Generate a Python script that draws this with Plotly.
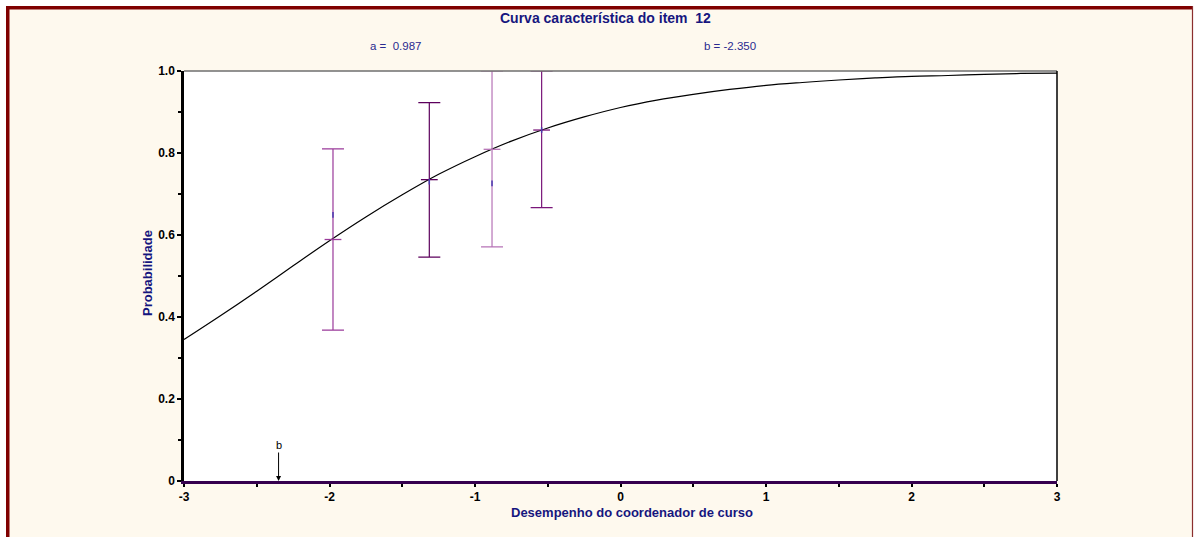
import plotly.graph_objects as go

# ---- data ----
curve_x = [-3.0, -2.75, -2.5, -2.25, -2.0, -1.75, -1.5, -1.25, -1.0, -0.75, -0.5, -0.25,
           0.0, 0.25, 0.5, 0.75, 1.0, 1.25, 1.5, 1.75, 2.0, 2.25, 2.5, 2.75, 3.0]
curve_p = [0.345, 0.403, 0.463, 0.525, 0.586, 0.644, 0.698, 0.748, 0.791, 0.829, 0.861, 0.888,
           0.911, 0.929, 0.943, 0.955, 0.965, 0.972, 0.978, 0.983, 0.987, 0.989, 0.992, 0.994, 0.995]

group_x = [-1.976, -1.314, -0.883, -0.542]
group_fit = [0.589, 0.735, 0.809, 0.856]
group_upper = [0.810, 0.923, 1.0, 1.0]
group_lower = [0.368, 0.546, 0.571, 0.667]
group_obs = [0.649, 0.730, 0.726, 0.856]

param_a = "0.987"
param_b = -2.35
item_no = 12

x_ticks = [-3, -2, -1, 0, 1, 2, 3]
y_ticks = [0, 0.2, 0.4, 0.6, 0.8, 1.0]
y_ticklabels = ["0", "0.2", "0.4", "0.6", "0.8", "1.0"]

# ---- styling ----
W, H = 1194, 537
L, R, T, B = 184, 1057, 71, 481
bar_colors = ["#9A3A9A", "#5C005C", "#B673B6", "#7A167A"]
navy = "#16167E"
FONT = "Liberation Sans"


def px(xp):
    return (xp - L) / (R - L)


def py(yp):
    return (B - yp) / (B - T)


fig = go.Figure()

fig.add_trace(go.Scatter(x=curve_x, y=curve_p, mode="lines",
                         line=dict(color="black", width=1.2, shape="spline"),
                         showlegend=False, hoverinfo="skip"))

for i in range(len(group_x)):
    c = bar_colors[i]
    fig.add_trace(go.Scatter(
        x=[group_x[i]], y=[group_fit[i]], mode="markers",
        marker=dict(symbol="line-ew", size=12, line=dict(color=c, width=1.3)),
        error_y=dict(type="data", symmetric=False,
                     array=[group_upper[i] - group_fit[i]],
                     arrayminus=[group_fit[i] - group_lower[i]],
                     color=c, thickness=1.2, width=11),
        showlegend=False, cliponaxis=False))

fig.add_trace(go.Scatter(x=group_x, y=group_obs, mode="markers",
                         marker=dict(symbol="line-ns", size=4,
                                     line=dict(color="#4A3AB0", width=1.5)),
                         showlegend=False))

shapes = [
    dict(type="rect", xref="paper", yref="paper", x0=px(0), x1=px(W), y0=py(0), y1=py(6),
         fillcolor="white", line=dict(width=0), layer="below"),
    dict(type="rect", xref="paper", yref="paper", x0=px(0), x1=px(6), y0=py(0), y1=py(H),
         fillcolor="white", line=dict(width=0), layer="below"),
    dict(type="rect", xref="paper", yref="paper", x0=px(1193), x1=px(W), y0=py(0), y1=py(H),
         fillcolor="white", line=dict(width=0), layer="below"),
    dict(type="rect", xref="paper", yref="paper", x0=px(6), x1=px(1193), y0=py(6), y1=py(9.5),
         fillcolor="#800000", line=dict(width=0)),
    dict(type="rect", xref="paper", yref="paper", x0=px(6), x1=px(9.5), y0=py(6), y1=py(H),
         fillcolor="#800000", line=dict(width=0)),
    dict(type="line", xref="paper", yref="paper", x0=px(1192.5), x1=px(1192.5), y0=py(6), y1=py(H),
         line=dict(color="#8B2E2E", width=1.2)),
    dict(type="line", xref="paper", yref="paper", x0=0, x1=1, y0=1, y1=1,
         line=dict(color="#6E6E6E", width=1.5)),
    dict(type="line", xref="paper", yref="paper", x0=1, x1=1, y0=0, y1=1,
         line=dict(color="black", width=1.5)),
]

C = dict(xanchor="center", yanchor="middle", showarrow=False, xref="paper", yref="paper")
annotations = [
    dict(text=f"<b>Curva característica do item  {item_no}</b>", x=px(605), y=py(18),
         font=dict(family=FONT, size=14, color=navy), **C),
    dict(text=f"a =  {param_a}", x=px(395), y=py(46),
         font=dict(family=FONT, size=11.5, color="#2A2A90"), **C),
    dict(text=f"b = {param_b:.3f}", x=px(730), y=py(46),
         font=dict(family=FONT, size=11.5, color="#2A2A90"), **C),
    dict(text="<b>Probabilidade</b>", x=px(147), y=py(273), textangle=-90,
         font=dict(family=FONT, size=13, color=navy), **C),
    dict(text="<b>Desempenho do coordenador de curso</b>", x=px(632), y=py(512),
         font=dict(family=FONT, size=13, color=navy), **C),
    dict(text="b", x=param_b, y=0, xref="x", yref="y", showarrow=True, ax=0, ay=-36,
         arrowhead=2, arrowsize=1, arrowwidth=1, arrowcolor="black", standoff=0,
         font=dict(family=FONT, size=11, color="black")),
]

fig.update_layout(
    width=W, height=H,
    margin=dict(l=L, r=W - R, t=T, b=H - B),
    paper_bgcolor="#FEF9EE", plot_bgcolor="white",
    shapes=shapes, annotations=annotations, showlegend=False,
    xaxis=dict(range=[-3, 3], tickvals=x_ticks, ticktext=[str(v) for v in x_ticks],
               showgrid=False, zeroline=False, showline=True, linecolor="#36004E", linewidth=2.5,
               ticks="outside", ticklen=3, tickwidth=2, tickcolor="black",
               minor=dict(dtick=0.5, ticks="outside", ticklen=3, tickwidth=2, tickcolor="black"),
               tickfont=dict(family=FONT, size=12, color="black", weight="bold")),
    yaxis=dict(range=[0, 1], tickvals=y_ticks, ticktext=y_ticklabels,
               showgrid=False, zeroline=False, showline=True, linecolor="black", linewidth=2.5,
               ticks="outside", ticklen=4, tickwidth=2, tickcolor="black",
               minor=dict(dtick=0.1, ticks="outside", ticklen=3, tickwidth=2, tickcolor="black"),
               tickfont=dict(family=FONT, size=12, color="black", weight="bold")),
)

fig.write_html("out.html", config={"displayModeBar": False},
               post_script="document.body.style.margin='0';document.body.style.padding='0';")
